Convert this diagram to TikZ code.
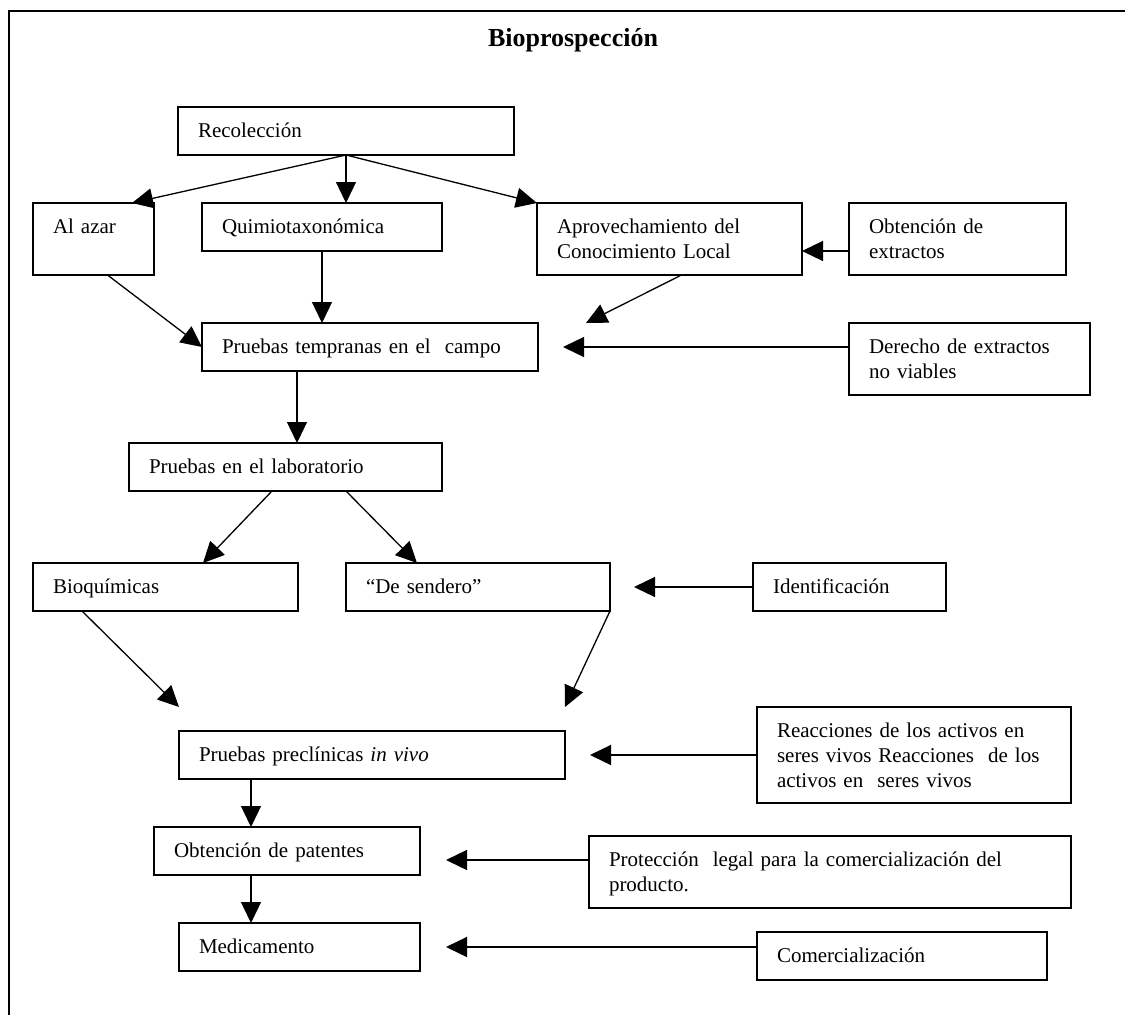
\documentclass[tikz,border=0pt]{standalone}
\usepackage{fontspec}
\setmainfont{Liberation Serif}
\usetikzlibrary{arrows.meta}
\tikzset{font={\fontsize{21pt}{25pt}\selectfont}}
\tikzset{
	caja/.style={draw, line width=1.4pt, outer sep=0pt, anchor=north west, align=left,
		inner xsep=20pt, inner ysep=13pt, text height=17pt},
	chica/.style={caja, text depth=5pt},
	alta/.style={caja, text depth=29pt},
	flecha/.style={-{Triangle[length=21pt,width=20pt]}, line width=1.3pt}
}

\begin{document}
\begin{tikzpicture}[x=1pt,y=-1pt]
		\useasboundingbox (0,0) rectangle (1125,1015);
		%Marco
		\draw[line width=2pt] (1125,11) -- (9,11) -- (9,1015);
		%Titulo
		\node[anchor=base, font={\fontsize{26pt}{30pt}\selectfont\bfseries}] (titulo) at (573,46) {Bioprospección};
		%Cajas
		\node[chica, text width=296pt] (rec) at (178,107) {Recolección};
		\node[alta, text width=81pt] (azar) at (33,203) {Al azar};
		\node[chica, text width=200pt] (quim) at (202,203) {Quimiotaxonómica};
		\node[alta, text width=225pt] (aprov) at (537,203) {Aprovechamiento del\\Conocimiento Local};
		\node[alta, text width=177pt] (obt) at (849,203) {Obtención de\\extractos};
		\node[chica, text width=296pt] (temp) at (202,323) {Pruebas tempranas en el\ \ campo};
		\node[alta, text width=201pt] (derecho) at (849,323) {Derecho de extractos\\no viables};
		\node[chica, text width=273pt] (lab) at (129,443) {Pruebas en el laboratorio};
		\node[chica, text width=225pt] (bioq) at (33,563) {Bioquímicas};
		\node[chica, text width=224pt] (send) at (346,563) {“De sendero”};
		\node[chica, text width=153pt] (ident) at (753,563) {Identificación};
		\node[chica, text width=346pt] (precl) at (179,731) {Pruebas preclínicas \textit{in vivo}};
		\node[caja, text depth=53pt, text width=274pt] (reac) at (757,707) {Reacciones de los activos en\\seres vivos Reacciones\ \ de los\\activos en\ \ seres vivos};
		\node[chica, text width=226pt] (pat) at (154,827) {Obtención de patentes};
		\node[alta, text width=442pt] (prot) at (589,836) {Protección\ \ legal para la comercialización del\\producto.};
		\node[chica, text width=201pt] (med) at (179,923) {Medicamento};
		\node[chica, text width=250pt] (com) at (757,932) {Comercialización};
		%Flechas de recoleccion
		\draw[flecha] (rec.south) -- ([xshift=-22pt]azar.north east);
		\draw[flecha] (rec.south) -- (rec.south |- quim.north);
		\draw[flecha] (rec.south) -- (aprov.north west);
		%Flechas hacia pruebas tempranas
		\draw[flecha] ([xshift=14pt]azar.south) -- (temp.west);
		\draw[flecha] (quim.south) -- (quim.south |- temp.north);
		\draw[flecha] ([xshift=12pt]aprov.south) -- ([xshift=48pt]temp.north east);
		\draw[flecha] (derecho.west |- temp.east) -- ([xshift=25pt]temp.east);
		\draw[flecha] ([yshift=-12pt]obt.west) -- ([yshift=-12pt]aprov.east);
		%Laboratorio
		\draw[flecha] ([xshift=-73pt]temp.south) -- ([xshift=-73pt]temp.south |- lab.north);
		\draw[flecha] ([xshift=-13.5pt]lab.south) -- ([xshift=37.5pt]bioq.north);
		\draw[flecha] ([xshift=60.5pt]lab.south) -- ([xshift=-61pt]send.north);
		\draw[flecha] (ident.west) -- ([xshift=24pt]send.east);
		%Preclinicas
		\draw[flecha] ([xshift=-83.5pt]bioq.south) -- ([yshift=24pt]precl.north west);
		\draw[flecha] (send.south east) -- ([yshift=24pt]precl.north east);
		\draw[flecha] (reac.west) -- ([xshift=25pt]precl.east);
		%Patentes y medicamento
		\draw[flecha] ([xshift=-121pt]precl.south) -- ([xshift=-121pt]precl.south |- pat.north);
		\draw[flecha] ([yshift=12pt]prot.west) -- ([xshift=26pt,yshift=12pt]prot.west -| pat.east);
		\draw[flecha] ([xshift=-121pt]precl.south |- pat.south) -- ([xshift=-121pt]precl.south |- med.north);
		\draw[flecha] (com.west |- med.east) -- ([xshift=26pt]med.east);
\end{tikzpicture}
\end{document}
